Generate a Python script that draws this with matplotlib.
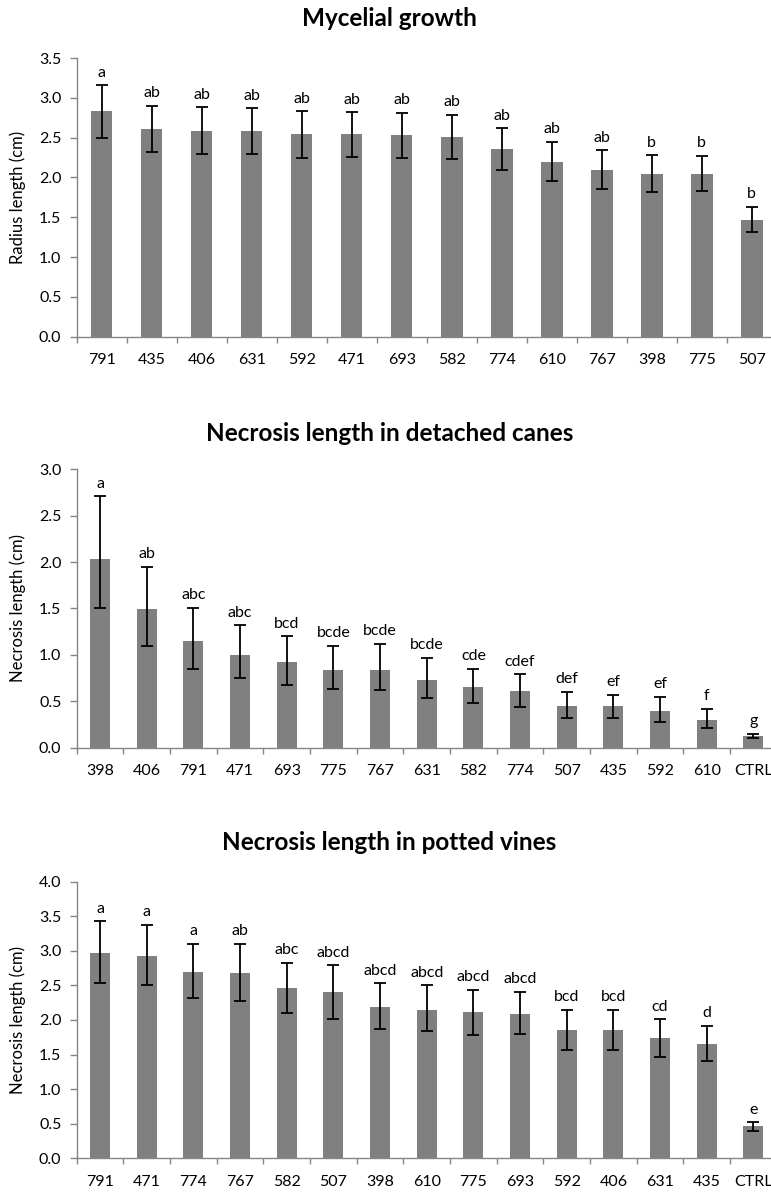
import matplotlib
matplotlib.use("Agg")
import matplotlib.pyplot as plt
from matplotlib.ticker import FixedLocator, FormatStrFormatter
import numpy as np

plt.rcParams['font.family'] = ['Lato', 'DejaVu Sans']

# --- Mycelial growth ---
myc_isolates = ["791", "435", "406", "631", "592", "471", "693", "582", "774", "610", "767", "398", "775", "507"]
myc_mean = [2.83, 2.61, 2.59, 2.58, 2.54, 2.54, 2.53, 2.51, 2.36, 2.20, 2.10, 2.05, 2.05, 1.47]
myc_err = [0.33, 0.29, 0.29, 0.29, 0.29, 0.28, 0.28, 0.28, 0.26, 0.25, 0.24, 0.23, 0.22, 0.16]
myc_groups = ["a", "ab", "ab", "ab", "ab", "ab", "ab", "ab", "ab", "ab", "ab", "b", "b", "b"]

# --- Necrosis length in detached canes ---
cane_isolates = ["398", "406", "791", "471", "693", "775", "767", "631", "582", "774", "507", "435", "592", "610", "CTRL"]
cane_mean = [2.03, 1.49, 1.15, 1.00, 0.92, 0.84, 0.84, 0.73, 0.65, 0.61, 0.45, 0.45, 0.40, 0.30, 0.12]
cane_err_low = [0.53, 0.39, 0.30, 0.25, 0.25, 0.21, 0.22, 0.20, 0.17, 0.17, 0.13, 0.13, 0.12, 0.09, 0.02]
cane_err_high = [0.68, 0.46, 0.36, 0.32, 0.28, 0.26, 0.28, 0.24, 0.20, 0.18, 0.15, 0.12, 0.15, 0.12, 0.03]
cane_groups = ["a", "ab", "abc", "abc", "bcd", "bcde", "bcde", "bcde", "cde", "cdef", "def", "ef", "ef", "f", "g"]

# --- Necrosis length in potted vines ---
vine_isolates = ["791", "471", "774", "767", "582", "507", "398", "610", "775", "693", "592", "406", "631", "435", "CTRL"]
vine_mean = [2.97, 2.93, 2.70, 2.68, 2.46, 2.40, 2.19, 2.15, 2.11, 2.09, 1.86, 1.86, 1.74, 1.65, 0.46]
vine_err_low = [0.44, 0.42, 0.38, 0.40, 0.36, 0.38, 0.32, 0.31, 0.32, 0.29, 0.29, 0.30, 0.27, 0.24, 0.07]
vine_err_high = [0.46, 0.45, 0.40, 0.42, 0.37, 0.39, 0.34, 0.35, 0.33, 0.32, 0.29, 0.29, 0.27, 0.27, 0.06]
vine_groups = ["a", "a", "a", "ab", "abc", "abcd", "abcd", "abcd", "abcd", "abcd", "bcd", "bcd", "cd", "d", "e"]

BAR = "#808080"
AXIS = "#868686"

fig = plt.figure(figsize=(7.71, 11.92), dpi=100)


def panel(rect, ylabel, names, means, err_low, err_high, groups, ymax):
    ax = fig.add_axes(rect)
    x = np.arange(len(names))
    ax.bar(x, means, width=0.43, color=BAR, zorder=2)
    ax.errorbar(x, means, yerr=[err_low, err_high], fmt="none", ecolor="black",
                elinewidth=1.3, capsize=4.2, capthick=1.3, zorder=3)
    for xi, m, eh, g in zip(x, means, err_high, groups):
        ax.annotate(g, (xi, m + eh), xytext=(0, 4), textcoords="offset points",
                    ha="center", va="bottom", fontsize=11.5, color="black")
    ax.set_xlim(-0.5, len(names) - 0.5)
    ax.set_ylim(0, ymax)
    ax.set_yticks(np.arange(0, ymax + 0.01, 0.5))
    ax.yaxis.set_major_formatter(FormatStrFormatter("%.1f"))
    ax.set_xticks(x)
    ax.set_xticklabels(names)
    ax.xaxis.set_minor_locator(FixedLocator(np.arange(-0.5, len(names), 1.0)))
    ax.tick_params(axis="x", which="major", length=0, pad=12, labelsize=11.5)
    ax.tick_params(axis="x", which="minor", length=4.3, width=1, color=AXIS, direction="out")
    ax.tick_params(axis="y", which="major", length=5, width=1, color=AXIS, pad=6, labelsize=11.5)
    for s in ("top", "right"):
        ax.spines[s].set_visible(False)
    for s in ("left", "bottom"):
        ax.spines[s].set_color(AXIS)
        ax.spines[s].set_linewidth(1.0)
    ax.set_ylabel(ylabel, fontsize=12)
    ax.yaxis.set_label_coords(-0.072, 0.5)
    return ax


left, width = 0.0995, 0.908

panel([left, 0.7175, width, 0.2338], "Radius length (cm)",
      myc_isolates, myc_mean, myc_err, myc_err, myc_groups, 3.5)
panel([left, 0.3728, width, 0.2335], "Necrosis length (cm)",
      cane_isolates, cane_mean, cane_err_low, cane_err_high, cane_groups, 3.0)
panel([left, 0.0283, width, 0.2320], "Necrosis length (cm)",
      vine_isolates, vine_mean, vine_err_low, vine_err_high, vine_groups, 4.0)

titles = ["Mycelial growth", "Necrosis length in detached canes", "Necrosis length in potted vines"]
title_y = [19, 434, 842]
for t, ty in zip(titles, title_y):
    fig.text(0.505, 1 - ty / 1192, t, ha="center", va="center",
             fontsize=17.5, fontweight="bold")

fig.savefig("out.png", dpi=100)
